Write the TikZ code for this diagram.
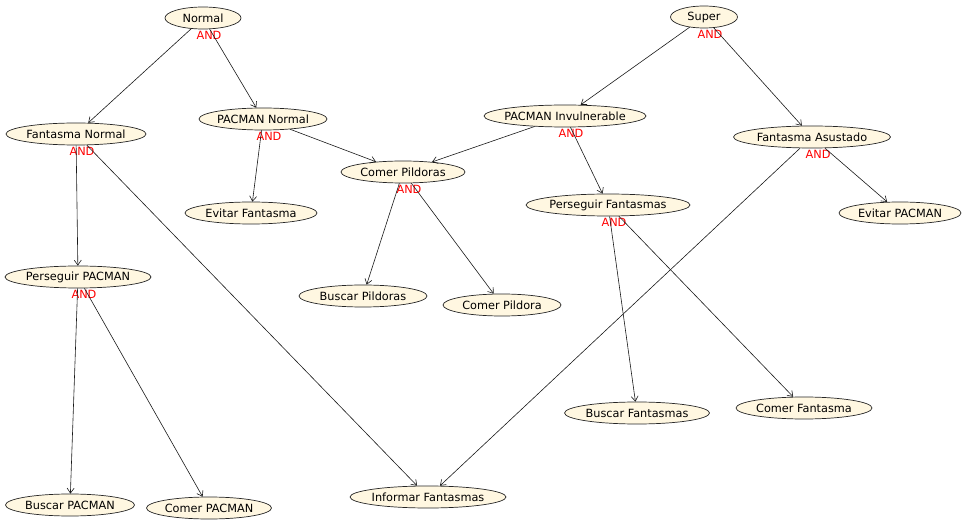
\documentclass[tikz,border=0pt]{standalone}
\usepackage{fontspec}
\setmainfont{DejaVu Sans}
\usepackage{tikz}
\usetikzlibrary{shapes,shapes.geometric}
\usetikzlibrary{arrows,arrows.meta}
\definecolor{metacream}{RGB}{255,247,225}
\tikzset{
	goalnode/.style={ellipse, draw=black!85, fill=metacream, line width=0.7pt, inner sep=0pt, minimum height=22pt, font=\fontsize{11.3}{13}\selectfont},
	andtag/.style={text=red, inner sep=0pt, font=\fontsize{11.3}{13}\selectfont},
	edge/.style={-{Straight Barb[length=5pt, width=7pt]}, line width=0.6pt, black!90}
}

\begin{document}
\begin{tikzpicture}[x=1pt, y=-1pt]
			\useasboundingbox (0,0) rectangle (966,526);
			
			\node[goalnode, minimum width=76pt] (normal) at (203,18) {\makebox[0pt]{Normal}};
			\node[goalnode, minimum width=67pt] (super) at (704,17) {\makebox[0pt]{Super}};
			\node[goalnode, minimum width=140pt] (fnormal) at (76,134) {\makebox[0pt]{Fantasma Normal}};
			\node[goalnode, minimum width=128pt] (pnormal) at (263,119) {\makebox[0pt]{PACMAN Normal}};
			\node[goalnode, minimum width=162pt] (pinvul) at (565,116) {\makebox[0pt]{PACMAN Invulnerable}};
			\node[goalnode, minimum width=157pt] (fasust) at (812,137) {\makebox[0pt]{Fantasma Asustado}};
			\node[goalnode, minimum width=124pt] (cpildoras) at (403,172) {\makebox[0pt]{Comer Pildoras}};
			\node[goalnode, minimum width=132pt] (evfant) at (251,213) {\makebox[0pt]{Evitar Fantasma}};
			\node[goalnode, minimum width=164pt] (persfant) at (608,205) {\makebox[0pt]{Perseguir Fantasmas}};
			\node[goalnode, minimum width=122pt] (evpac) at (900,213) {\makebox[0pt]{Evitar PACMAN}};
			\node[goalnode, minimum width=146pt] (perspac) at (78,277) {\makebox[0pt]{Perseguir PACMAN}};
			\node[goalnode, minimum width=128pt] (bpildoras) at (363,296) {\makebox[0pt]{Buscar Pildoras}};
			\node[goalnode, minimum width=118pt] (cpildora) at (502,305) {\makebox[0pt]{Comer Pildora}};
			\node[goalnode, minimum width=145pt] (bfant) at (637,413) {\makebox[0pt]{Buscar Fantasmas}};
			\node[goalnode, minimum width=136pt] (cfant) at (804,408) {\makebox[0pt]{Comer Fantasma}};
			\node[goalnode, minimum width=129pt] (bpac) at (70,505) {\makebox[0pt]{Buscar PACMAN}};
			\node[goalnode, minimum width=125pt] (cpac) at (209,508) {\makebox[0pt]{Comer PACMAN}};
			\node[goalnode, minimum width=156pt] (infant) at (428,497) {\makebox[0pt]{Informar Fantasmas}};
			
			% AND decompositions
			\node[andtag] (and1) at ([xshift=6pt,yshift=-6pt]normal.south) {AND};
			\node[andtag] (and2) at ([xshift=6pt,yshift=-6pt]super.south) {AND};
			\node[andtag] (and3) at ([xshift=6pt,yshift=-6pt]fnormal.south) {AND};
			\node[andtag] (and4) at ([xshift=6pt,yshift=-6pt]pnormal.south) {AND};
			\node[andtag] (and5) at ([xshift=6pt,yshift=-6pt]pinvul.south) {AND};
			\node[andtag] (and6) at ([xshift=6pt,yshift=-6pt]fasust.south) {AND};
			\node[andtag] (and7) at ([xshift=6pt,yshift=-6pt]cpildoras.south) {AND};
			\node[andtag] (and8) at ([xshift=6pt,yshift=-6pt]persfant.south) {AND};
			\node[andtag] (and9) at ([xshift=6pt,yshift=-6pt]perspac.south) {AND};
			
			\draw[edge] (normal) -- (fnormal);
			\draw[edge] (normal) -- (pnormal);
			\draw[edge] (super) -- (pinvul);
			\draw[edge] (super) -- (fasust);
			\draw[edge] (fnormal) -- (perspac);
			\draw[edge] (fnormal) -- (infant);
			\draw[edge] (pnormal) -- (evfant);
			\draw[edge] (pnormal) -- (cpildoras);
			\draw[edge] (pinvul) -- (cpildoras);
			\draw[edge] (pinvul) -- (persfant);
			\draw[edge] (fasust) -- (infant);
			\draw[edge] (fasust) -- (evpac);
			\draw[edge] (cpildoras) -- (bpildoras);
			\draw[edge] (cpildoras) -- (cpildora);
			\draw[edge] (persfant) -- (bfant);
			\draw[edge] (persfant) -- (cfant);
			\draw[edge] (perspac) -- (bpac);
			\draw[edge] (perspac) -- (cpac);
		\end{tikzpicture}
\end{document}
